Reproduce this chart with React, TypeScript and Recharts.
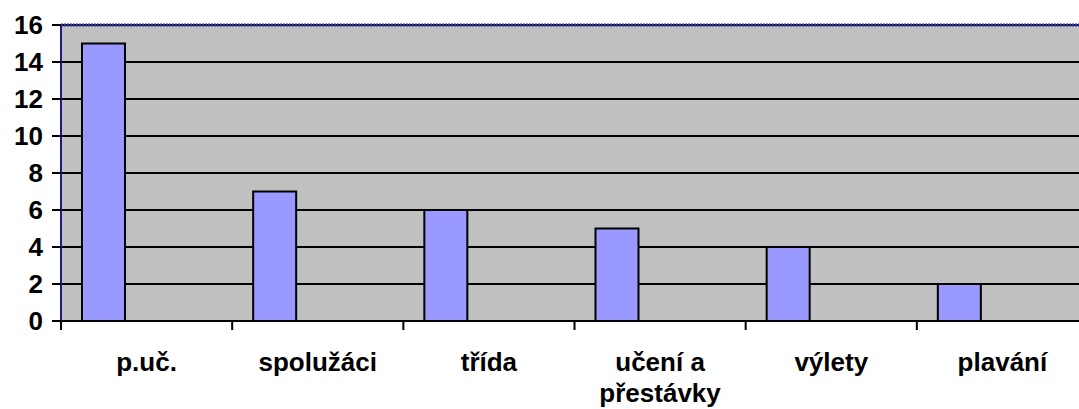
import { BarChart, Bar, XAxis, YAxis, CartesianGrid, ReferenceLine } from 'recharts';

const categories = ['p.uč.', 'spolužáci', 'třída', 'učení a\npřestávky', 'výlety', 'plavání'];
const counts = [15, 7, 6, 5, 4, 2];
const yTicks = [0, 2, 4, 6, 8, 10, 12, 14, 16];

// Excel-style layout: the chart had three series, only the first one filled
const data = categories.map((name, i) => ({ name, count: counts[i], s2: null, s3: null }));

const W = 1079;
const H = 409;
// plot area runs a bit past the right edge of the picture
const CHART_W = 1088;
const LEFT = 61;
const band = (CHART_W - LEFT) / categories.length;
const font = '"Liberation Sans", Arial, sans-serif';

function XTick({ x, y, payload }: { x?: number; y?: number; payload?: { value: string } }) {
  const lines = String(payload?.value ?? '').split('\n');
  const cx = x ?? 0;
  const cy = y ?? 0;
  return (
    <g>
      <line x1={cx - band / 2} x2={cx - band / 2} y1={cy} y2={cy + 9} stroke="#000" strokeWidth={2} />
      <text x={cx} y={cy} textAnchor="middle" fontWeight="bold" fontSize={26} fontFamily={font} fill="#000">
        {lines.map((l, i) => (
          <tspan key={i} x={cx} dy={i === 0 ? 50 : 31}>{l}</tspan>
        ))}
      </text>
    </g>
  );
}

export default function App() {
  return (
    <div style={{ position: 'absolute', left: 0, top: 0, width: W, height: H, overflow: 'hidden', background: '#fff' }}>
      <BarChart
        width={CHART_W}
        height={H}
        data={data}
        margin={{ top: 25, right: 0, left: 0, bottom: 0 }}
        barCategoryGap={21}
        barGap={0}
      >
        <CartesianGrid fill="#C0C0C0" vertical={false} stroke="#000" strokeWidth={2} strokeOpacity={1} />
        <XAxis
          dataKey="name"
          height={88}
          tickLine={false}
          tickSize={0}
          tickMargin={0}
          axisLine={{ stroke: '#000', strokeWidth: 2 }}
          tick={<XTick />}
          interval={0}
        />
        <YAxis
          width={LEFT}
          domain={[0, 16]}
          ticks={yTicks}
          interval={0}
          tickSize={9}
          tickMargin={9}
          tickLine={{ stroke: '#000', strokeWidth: 2 }}
          axisLine={{ stroke: '#1a1a80', strokeWidth: 2 }}
          tick={{ fill: '#000', fontSize: 26, fontWeight: 'bold', fontFamily: font }}
        />
        <ReferenceLine y={16} stroke="#2b2b9b" strokeWidth={3} strokeDasharray="2 1" />
        <Bar dataKey="count" fill="#9999FF" stroke="#000" strokeWidth={2} isAnimationActive={false} />
        <Bar dataKey="s2" fill="#993366" isAnimationActive={false} />
        <Bar dataKey="s3" fill="#FFFFCC" isAnimationActive={false} />
      </BarChart>
    </div>
  );
}
